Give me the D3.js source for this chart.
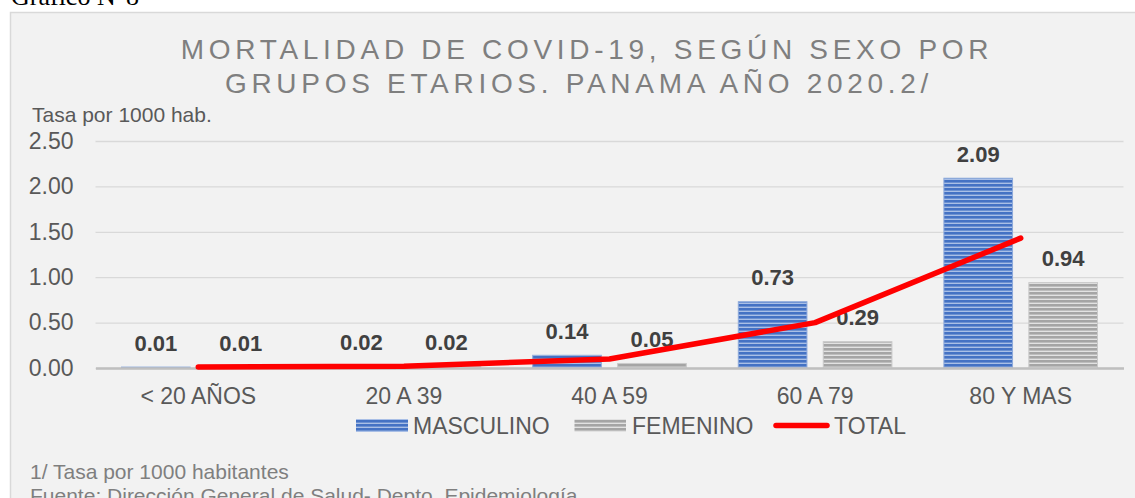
<!DOCTYPE html>
<html lang="es">
<head>
<meta charset="UTF-8">
<title>Mortalidad de COVID-19 según sexo</title>
<script src="https://d3js.org/d3.v7.min.js"></script>
<style>
    body { margin: 0; background: #fff; font-family: "Liberation Sans", Arial, sans-serif; }
    svg { display: block; }
    .tick text { fill: #595959; }
</style>
</head>
<body>
<svg id="chart"></svg>
<script>
// datos
const categories = ["< 20 AÑOS", "20 A 39", "40 A 59", "60 A 79", "80 Y MAS"];
const masculino = [0.01, 0.02, 0.14, 0.73, 2.09];
const femenino = [0.01, 0.02, 0.05, 0.29, 0.94];
const total = [0.01, 0.02, 0.10, 0.50, 1.43];
const yTicks = [0, 0.5, 1, 1.5, 2, 2.5];
const seriesNames = ["MASCULINO", "FEMENINO"];

const W = 1135, H = 498;
const plot = { left: 95.5, right: 1123.5, top: 141, bottom: 368 };

const svg = d3.select("#chart").attr("width", W).attr("height", H);

// patrones de barras (rayas horizontales)
const defs = svg.append("defs");
function stripes(id, dark, light) {
    const p = defs.append("pattern")
        .attr("id", id)
        .attr("patternUnits", "userSpaceOnUse")
        .attr("width", 8).attr("height", 4);
    p.append("rect").attr("width", 8).attr("height", 4).attr("fill", dark);
    p.append("rect").attr("y", 2.6).attr("width", 8).attr("height", 1.4).attr("fill", light);
}
stripes("pat-m", "#4472c4", "#a9bfe6");
stripes("pat-f", "#a5a5a5", "#e2e2e2");
const fills = { MASCULINO: "url(#pat-m)", FEMENINO: "url(#pat-f)" };
const edges = { MASCULINO: "#8eaadb", FEMENINO: "#c9c9c9" };

// titulo superior del documento
svg.append("text")
    .attr("x", 11).attr("y", 5)
    .style("font-family", "'Liberation Serif', 'Times New Roman', serif")
    .style("font-size", "26px")
    .attr("fill", "#000")
    .text("Gráfico N°8");

// area del grafico
svg.append("rect")
    .attr("x", 10.5).attr("y", 12.5)
    .attr("width", 1140).attr("height", 500)
    .attr("fill", "#f2f2f2")
    .attr("stroke", "#d9d9d9")
    .attr("stroke-width", 1.5);

// titulo
const title = svg.append("g")
    .attr("fill", "#7f7f7f")
    .style("font-size", "28px")
    .style("letter-spacing", "4.7px")
    .attr("text-anchor", "middle");
title.append("text").attr("x", 587).attr("y", 59).text("MORTALIDAD DE COVID-19, SEGÚN SEXO POR");
title.append("text").attr("x", 579).attr("y", 92.5).text("GRUPOS ETARIOS. PANAMA AÑO 2020.2/");

svg.append("text")
    .attr("x", 32).attr("y", 122)
    .attr("fill", "#595959")
    .style("font-size", "21px")
    .text("Tasa por 1000 hab.");

// escalas
const x0 = d3.scaleBand().domain(categories).range([plot.left, plot.right]).paddingInner(0).paddingOuter(0);
const x1 = d3.scaleBand().domain(seriesNames).range([0, x0.bandwidth()]).paddingInner(0.192).paddingOuter(0.306);
const y = d3.scaleLinear().domain([0, 2.5]).range([plot.bottom, plot.top]);

// eje y con lineas de cuadricula
const yAxis = svg.append("g")
    .attr("transform", `translate(${plot.left},0)`)
    .call(d3.axisLeft(y).tickValues(yTicks).tickFormat(d3.format(".2f"))
        .tickSize(-(plot.right - plot.left)).tickPadding(22));
yAxis.select(".domain").remove();
yAxis.selectAll(".tick line").attr("stroke", "#d9d9d9").attr("stroke-width", 1.3);
yAxis.selectAll(".tick text").style("font-size", "23px").style("font-family", "'Liberation Sans', Arial, sans-serif");

// barras
const rows = categories.map((c, i) => ({ cat: c, vals: [
    { key: "MASCULINO", v: masculino[i] },
    { key: "FEMENINO", v: femenino[i] }
] }));

const groups = svg.append("g").selectAll("g")
    .data(rows).join("g")
    .attr("transform", d => `translate(${x0(d.cat)},0)`);

groups.selectAll("rect")
    .data(d => d.vals).join("rect")
    .attr("x", d => x1(d.key))
    .attr("y", d => y(d.v))
    .attr("width", x1.bandwidth())
    .attr("height", d => y(0) - y(d.v))
    .attr("fill", d => fills[d.key])
    .attr("stroke", d => edges[d.key])
    .attr("stroke-width", 1);

// eje x
const xAxis = svg.append("g")
    .attr("transform", `translate(0,${plot.bottom})`)
    .call(d3.axisBottom(x0).tickSize(0).tickSizeOuter(0).tickPadding(20));
xAxis.select(".domain").attr("stroke", "#bfbfbf").attr("stroke-width", 2.5);
xAxis.selectAll(".tick text").style("font-size", "23px").style("font-family", "'Liberation Sans', Arial, sans-serif");

// linea total
const line = d3.line()
    .x((d, i) => x0(categories[i]) + x0.bandwidth() / 2)
    .y(d => y(d));
svg.append("path")
    .datum(total)
    .attr("d", line)
    .attr("fill", "none")
    .attr("stroke", "#ff0000")
    .attr("stroke-width", 5.5)
    .attr("stroke-linecap", "round")
    .attr("stroke-linejoin", "round");

// etiquetas de datos
groups.selectAll("text.val")
    .data(d => d.vals).join("text")
    .attr("class", "val")
    .attr("x", d => x1(d.key) + x1.bandwidth() / 2)
    .attr("y", d => y(d.v) - 16.5)
    .attr("text-anchor", "middle")
    .attr("fill", "#404040")
    .style("font-size", "22px")
    .style("font-weight", "bold")
    .text(d => d3.format(".2f")(d.v));

// leyenda
const legend = svg.append("g").style("font-size", "23px").attr("fill", "#595959");
legend.append("rect").attr("x", 356).attr("y", 419).attr("width", 52).attr("height", 13)
    .attr("fill", fills.MASCULINO);
legend.append("text").attr("x", 413).attr("y", 433.5).text("MASCULINO");
legend.append("rect").attr("x", 574.5).attr("y", 419).attr("width", 51.5).attr("height", 13)
    .attr("fill", fills.FEMENINO);
legend.append("text").attr("x", 632).attr("y", 433.5).text("FEMENINO");
legend.append("line").attr("x1", 776).attr("x2", 827).attr("y1", 425.5).attr("y2", 425.5)
    .attr("stroke", "#ff0000").attr("stroke-width", 5.5).attr("stroke-linecap", "round");
legend.append("text").attr("x", 834).attr("y", 433.5).text("TOTAL");

// notas
const notes = svg.append("g").style("font-size", "21px").attr("fill", "#7f7f7f");
notes.append("text").attr("x", 30).attr("y", 478.5).text("1/ Tasa por 1000 habitantes");
notes.append("text").attr("x", 30).attr("y", 502.5).text("Fuente: Dirección General de Salud- Depto. Epidemiología.");
</script>
</body>
</html>
